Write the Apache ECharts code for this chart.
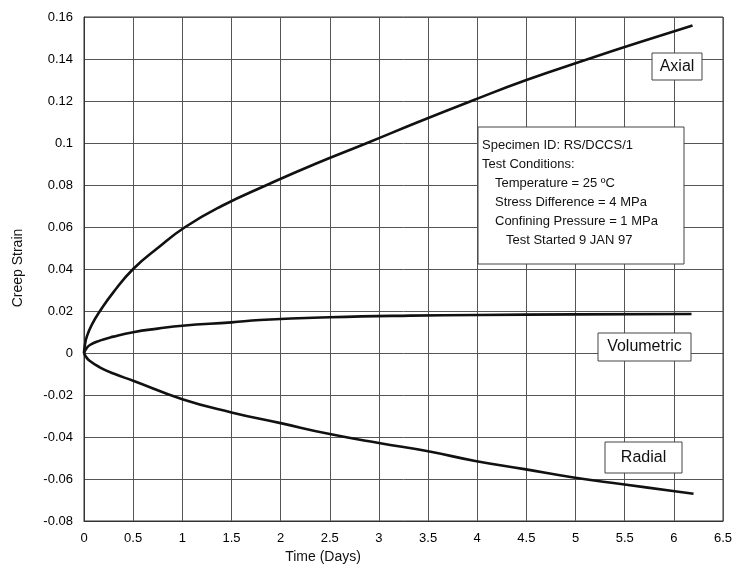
<!DOCTYPE html>
<html>
<head>
<meta charset="utf-8">
<script src="https://cdn.jsdelivr.net/npm/echarts@6/dist/echarts.min.js"></script>
<style>html,body{margin:0;padding:0;background:#fff}#c{width:737px;height:575px}</style>
</head>
<body>
<div id="c"></div>
<script>
// Tick settings
var xTicks = {min: 0, max: 6.5, interval: 0.5};
var yTicks = {min: -0.08, max: 0.16, interval: 0.02};

// Axial strain
var axialTime   = [0, 0.01, 0.03, 0.08, 0.163, 0.3, 0.5, 0.75, 1.03, 1.4, 1.86, 2.35, 2.88, 3.4, 3.94, 4.5, 5.13, 5.65, 6.19];
var axialStrain = [0, 0.004, 0.008, 0.0135, 0.02, 0.029, 0.04, 0.05, 0.06, 0.07, 0.08, 0.09, 0.10, 0.11, 0.12, 0.13, 0.14, 0.148, 0.156];

// Volumetric strain
var volTime   = [0, 0.02, 0.06, 0.16, 0.3, 0.5, 0.75, 1.0, 1.5, 1.79, 2.5, 3.32, 4.0, 5.0, 6.18];
var volStrain = [0, 0.0018, 0.0038, 0.0059, 0.0078, 0.0099, 0.0116, 0.013, 0.0146, 0.0157, 0.017, 0.0178, 0.0181, 0.0184, 0.0186];

// Radial strain
var radTime   = [0, 0.02, 0.06, 0.16, 0.3, 0.5, 1.0, 1.5, 2.0, 2.5, 3.0, 3.5, 3.98, 4.48, 4.98, 5.48, 5.99, 6.2];
var radStrain = [0, -0.0018, -0.0038, -0.0068, -0.0098, -0.0132, -0.022, -0.0283, -0.0334, -0.0386, -0.0429, -0.0468, -0.0514, -0.0553, -0.0593, -0.0625, -0.0657, -0.0670];

// Annotation texts
var curveLabels = ['Axial', 'Volumetric', 'Radial'];
var infoLines = ['Specimen ID: RS/DCCS/1', 'Test Conditions:', 'Temperature = 25 \u00baC', 'Stress Difference = 4 MPa', 'Confining Pressure = 1 MPa', 'Test Started 9 JAN 97'];
var xName = 'Time (Days)';
var yName = 'Creep Strain';

function zip(a, b) { return a.map(function (v, i) { return [v, b[i]]; }); }

var FONT = '"Liberation Sans", Arial, sans-serif';
var chart = echarts.init(document.getElementById('c'));

var lineStyle = {color: '#111', width: 2.6};
function ser(name, t, s) {
  return {name: name, type: 'line', data: zip(t, s), showSymbol: false, smooth: 0.5,
          lineStyle: lineStyle, silent: true, animation: false, z: 3};
}

var infoX = 478, infoY = 127;
var infoChildren = [{type: 'rect', z: 100, shape: {x: 0, y: 0, width: 206, height: 137},
  style: {fill: '#fff', stroke: '#444', lineWidth: 1}}];
var indents = [4, 4, 17, 17, 17, 28];
infoLines.forEach(function (l, i) {
  infoChildren.push({type: 'text', z: 101, x: indents[i], y: 18 + i * 19,
    style: {text: l, font: '13px ' + FONT, fill: '#111', textVerticalAlign: 'middle'}});
});

function labelBox(text, x, y, w, h) {
  return {type: 'group', x: x, y: y, z: 100, children: [
    {type: 'rect', z: 100, shape: {x: 0, y: 0, width: w, height: h}, style: {fill: '#fff', stroke: '#444', lineWidth: 1}},
    {type: 'text', z: 101, x: w / 2, y: h / 2, style: {text: text, font: '16px ' + FONT, fill: '#111',
      textAlign: 'center', textVerticalAlign: 'middle'}}
  ]};
}

chart.setOption({
  animation: false,
  backgroundColor: '#fff',
  grid: {left: 84, top: 17, width: 639, height: 504, show: true, borderColor: '#333', borderWidth: 1},
  xAxis: {type: 'value', min: xTicks.min, max: xTicks.max, interval: xTicks.interval,
    axisLine: {show: true, onZero: false, lineStyle: {color: '#333'}},
    axisTick: {show: false},
    splitLine: {show: true, lineStyle: {color: '#555', width: 1}},
    axisLabel: {color: '#000', fontSize: 13, fontFamily: FONT, margin: 11,
      formatter: function (v) { return String(parseFloat(v.toFixed(1))); }}},
  yAxis: {type: 'value', min: yTicks.min, max: yTicks.max, interval: yTicks.interval,
    axisLine: {show: true, onZero: false, lineStyle: {color: '#333'}},
    axisTick: {show: false},
    splitLine: {show: true, lineStyle: {color: '#555', width: 1}},
    axisLabel: {color: '#000', fontSize: 13, fontFamily: FONT, margin: 11,
      formatter: function (v) { return String(parseFloat(v.toFixed(2))); }}},
  series: [ser('Axial', axialTime, axialStrain), ser('Volumetric', volTime, volStrain), ser('Radial', radTime, radStrain)],
  graphic: [
    {type: 'text', x: 323, y: 557, style: {text: xName, font: '14px ' + FONT, fill: '#111', textAlign: 'center', textVerticalAlign: 'middle'}},
    {type: 'text', x: 18, y: 268, rotation: Math.PI / 2, style: {text: yName, font: '14px ' + FONT, fill: '#111', textAlign: 'center', textVerticalAlign: 'middle'}},
    {type: 'group', x: infoX, y: infoY, z: 100, children: infoChildren},
    labelBox(curveLabels[0], 652, 53, 50, 27),
    labelBox(curveLabels[1], 598, 333, 93, 28),
    labelBox(curveLabels[2], 605, 442, 77, 31)
  ]
});
</script>
</body>
</html>
